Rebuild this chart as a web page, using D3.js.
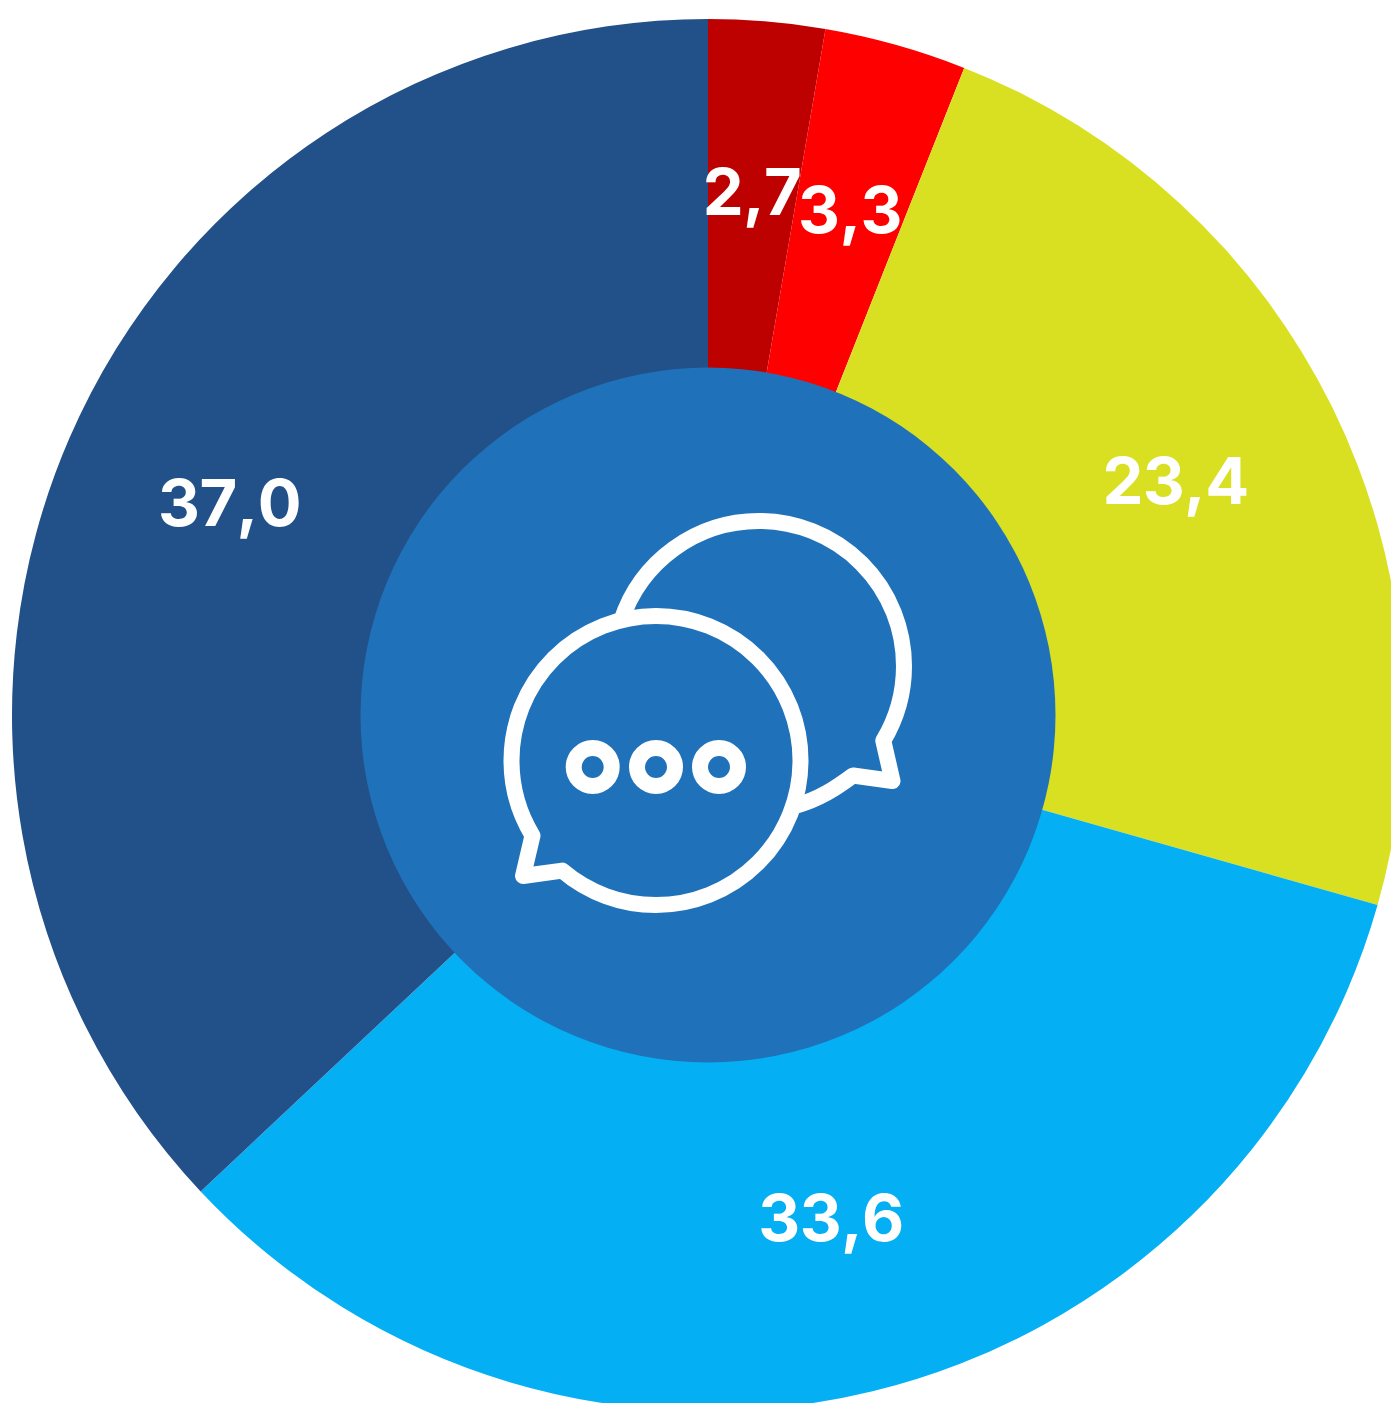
<!DOCTYPE html>
<html>
<head>
<meta charset="utf-8">
<script src="https://d3js.org/d3.v7.min.js"></script>
<style>
  html, body { margin: 0; padding: 0; background: #fff; overflow: hidden; }
  text { font-family: "Inter", "Open Sans", sans-serif; font-weight: 700; fill: #fff; font-size: 65px; font-kerning: none; letter-spacing: -0.6px; }
</style>
</head>
<body>
<div id="chart"></div>
<script>
var labels = ["2,7", "3,3", "23,4", "33,6", "37,0"];
var values = [2.7, 3.3, 23.4, 33.6, 37.0];
var colors = ["#bd0000", "#ff0000", "#d9e021", "#04b0f3", "#225088"];
var labelX = [752, 850, 1175.5, 831, 229.5];
var labelY = [215, 233, 504, 1241, 526];

var svg = d3.select("#chart").append("svg").attr("width", 1391).attr("height", 1403);
var g = svg.append("g").attr("transform", "translate(708,715)");

var pie = d3.pie().sort(null)(values);
var arc = d3.arc().innerRadius(340).outerRadius(696);

g.selectAll("path.slice").data(pie).enter().append("path")
  .attr("class", "slice")
  .attr("d", arc)
  .attr("fill", function (d, i) { return colors[i]; });

g.append("circle").attr("r", 347.5).attr("fill", "#1f72b9");

// speech bubbles, back one first
var icon = svg.append("g").attr("fill", "none").attr("stroke", "#fff").attr("stroke-width", 16).attr("stroke-linejoin", "round");
icon.append("path").attr("d", "M621.1 621.2 A145 145 0 0 1 759 521 A145 145 0 0 1 904 666 A145 145 0 0 1 883.3 740.7 L892.5 781 L853 775.5 C836 788 820 799 795 806");
icon.append("path").attr("d", "M532.5 835.6 A144.5 144.5 0 0 1 511.5 760.5 A144.5 144.5 0 0 1 656 616 A144.5 144.5 0 0 1 800.5 760.5 A144.5 144.5 0 0 1 656 905 A144.5 144.5 0 0 1 562.3 870.6 L523 876 Z");
var dots = [592.7, 656, 719];
icon.selectAll("circle").data(dots).enter().append("circle")
  .attr("cx", function (d) { return d; }).attr("cy", 767).attr("r", 19).attr("stroke-width", 16);

svg.selectAll("text.val").data(labels).enter().append("text")
  .attr("class", "val")
  .attr("x", function (d, i) { return labelX[i]; })
  .attr("y", function (d, i) { return labelY[i]; })
  .attr("text-anchor", "middle")
  .text(function (d) { return d; });
</script>
</body>
</html>
